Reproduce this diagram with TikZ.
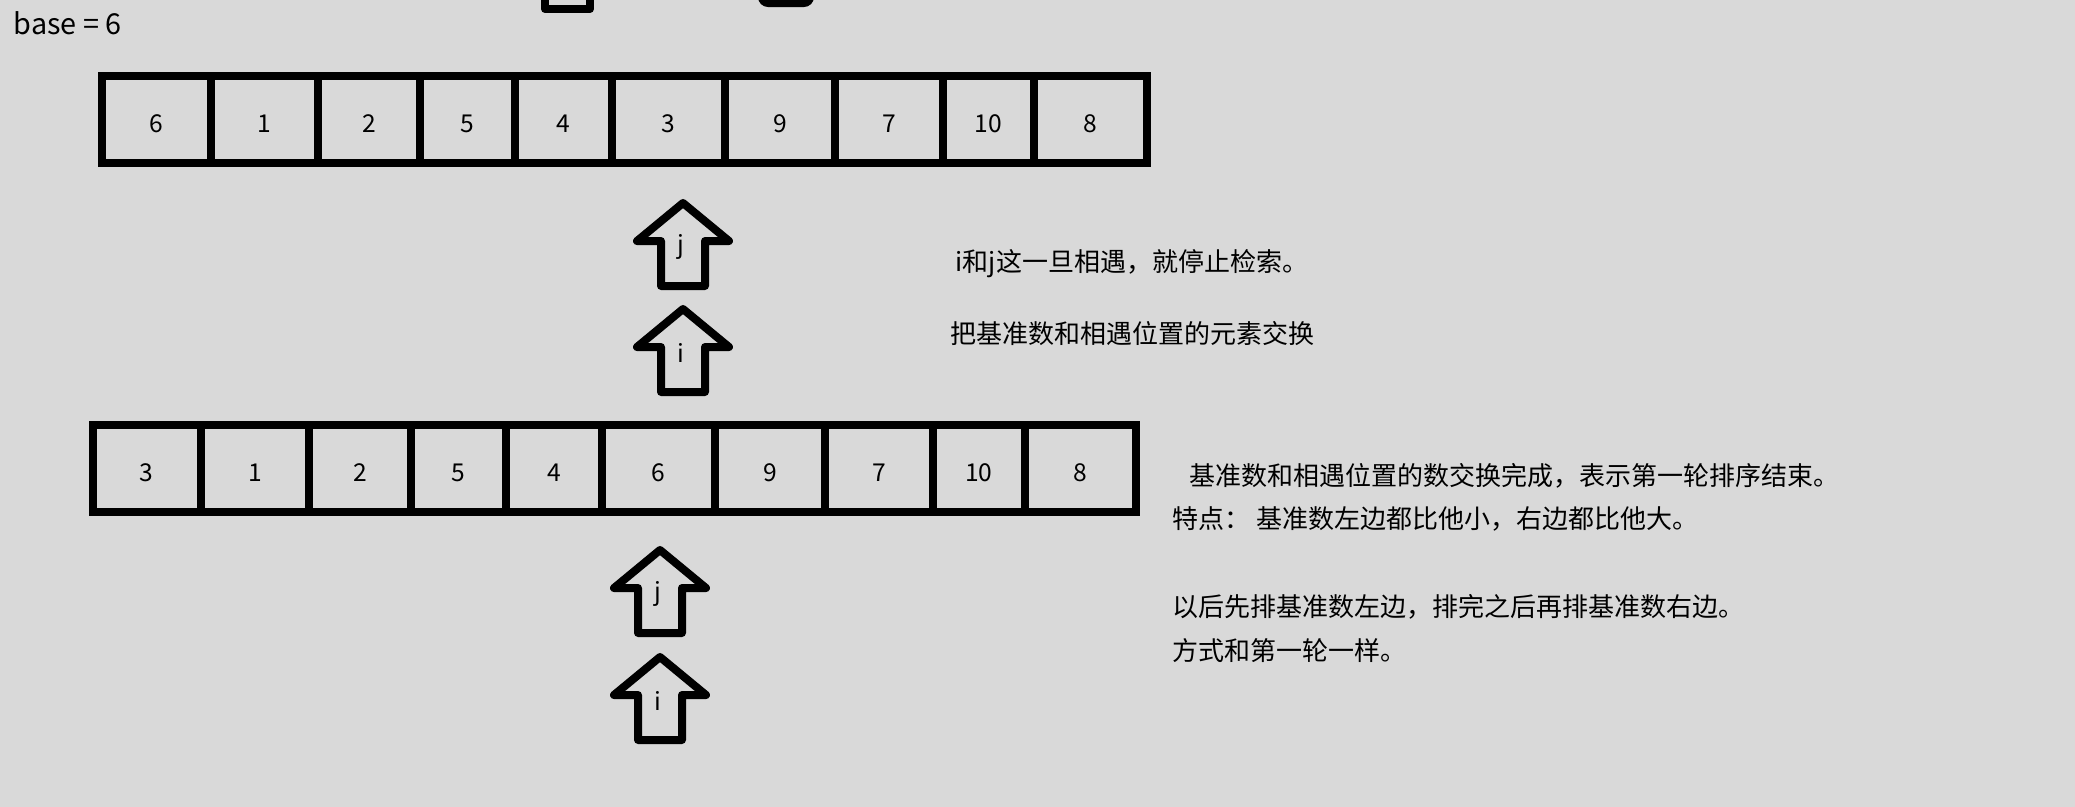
\documentclass[tikz,border=0pt]{standalone}
\usepackage{fontspec}
\setmainfont{Noto Sans CJK SC}
\usetikzlibrary{positioning}
\definecolor{paper}{RGB}{217,217,217}

\begin{document}
\begin{tikzpicture}[x=0.1mm, y=-0.1mm,
    cell/.style={draw, line width=0.8mm, outer sep=0pt, inner sep=0pt, minimum height=8.7mm, text height=2.6mm, text depth=0pt, font=\fontsize{7pt}{8pt}\selectfont},
    ptr/.style={draw, line width=0.8mm, line join=round},
    note/.style={anchor=west, inner sep=0pt, font=\fontsize{7.4pt}{9pt}\selectfont},
    idx/.style={inner sep=0pt, font=\fontsize{7pt}{8pt}\selectfont},
    pics/uparr/.style={code={
      \draw[ptr] (0,0) -- (-46,38) -- (-22,38) -- (-22,83) -- (22,83) -- (22,38) -- (46,38) -- cycle;
      \node[idx] (-t) at (-2,44) {#1};
    }}]
  \useasboundingbox (0,0) rectangle (2075,807);
  \clip (0,0) rectangle (2075,807);
  \fill[paper] (0,0) rectangle (2075,807);

  % left over from the frame above
  \draw[ptr] (545,-20) -- (545,9) -- (590,9) -- (590,-20);
  \fill[rounded corners=1mm] (758,-20) rectangle (814,7);

  \node[note, font=\fontsize{8.2pt}{9pt}\selectfont] (base) at (13,23) {base = 6};

  % before the swap
  \node[cell, minimum width=10.95mm, anchor=west] (a1) at (101.5,119.5) {6};
  \node[cell, minimum width=10.7mm, right=0pt of a1] (a2) {1};
  \node[cell, minimum width=10.2mm, right=0pt of a2] (a3) {2};
  \node[cell, minimum width=9.5mm, right=0pt of a3] (a4) {5};
  \node[cell, minimum width=9.7mm, right=0pt of a4] (a5) {4};
  \node[cell, minimum width=11.3mm, right=0pt of a5] (a6) {3};
  \node[cell, minimum width=11mm, right=0pt of a6] (a7) {9};
  \node[cell, minimum width=10.8mm, right=0pt of a7] (a8) {7};
  \node[cell, minimum width=9.1mm, right=0pt of a8] (a9) {10};
  \node[cell, minimum width=11.3mm, right=0pt of a9] (a10) {8};

  \pic (upj) at (683,203) {uparr=j};
  \pic (upi) at (683,309) {uparr=i};

  \node[note] (meet) at (955,264) {i和j这一旦相遇，就停止检索。};
  \node[note] (swap) at (950,334) {把基准数和相遇位置的元素交换};

  % after the swap
  \node[cell, minimum width=10.85mm, anchor=west] (b1) at (92.5,468.5) {3};
  \node[cell, minimum width=10.8mm, right=0pt of b1] (b2) {1};
  \node[cell, minimum width=10.2mm, right=0pt of b2] (b3) {2};
  \node[cell, minimum width=9.5mm, right=0pt of b3] (b4) {5};
  \node[cell, minimum width=9.6mm, right=0pt of b4] (b5) {4};
  \node[cell, minimum width=11.3mm, right=0pt of b5] (b6) {6};
  \node[cell, minimum width=11mm, right=0pt of b6] (b7) {9};
  \node[cell, minimum width=10.8mm, right=0pt of b7] (b8) {7};
  \node[cell, minimum width=9.2mm, right=0pt of b8] (b9) {10};
  \node[cell, minimum width=11.15mm, right=0pt of b9] (b10) {8};

  \pic (lowj) at (660,550) {uparr=j};
  \pic (lowi) at (660,657) {uparr=i};

  \node[note] (done) at (1189,476) {基准数和相遇位置的数交换完成，表示第一轮排序结束。};
  \node[note] (feat) at (1172,519) {特点： 基准数左边都比他小，右边都比他大。};
  \node[note] (next) at (1172,607) {以后先排基准数左边，排完之后再排基准数右边。};
  \node[note] (same) at (1172,651) {方式和第一轮一样。};
\end{tikzpicture}
\end{document}
